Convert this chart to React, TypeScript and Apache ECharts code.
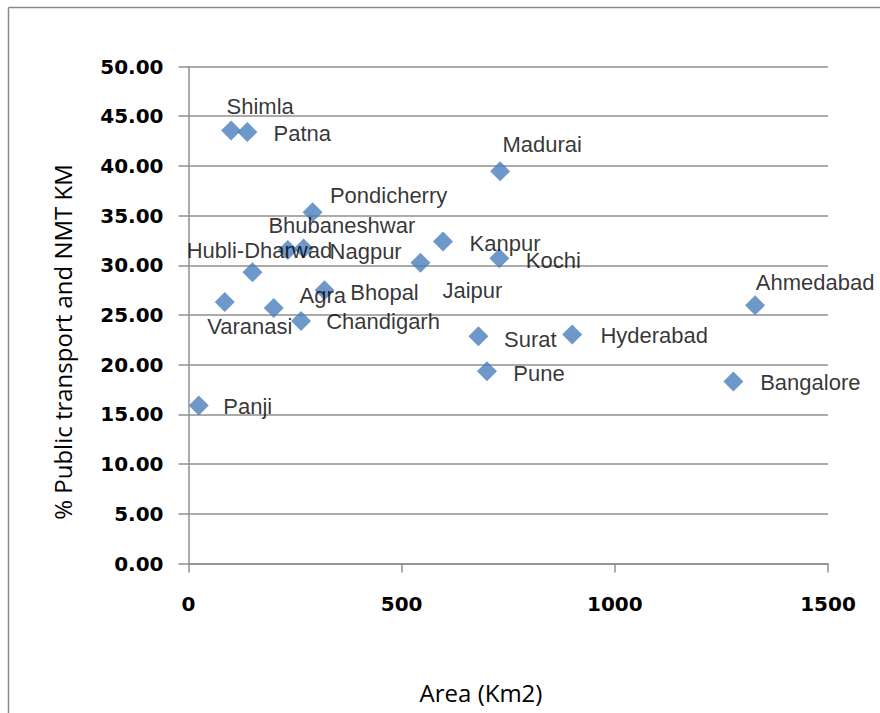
import React, { useEffect, useRef } from "react";
import * as echarts from "echarts";

const cities = [
  "Shimla", "Patna", "Madurai", "Pondicherry", "Bhubaneshwar", "Nagpur",
  "Hubli-Dharwad", "Kanpur", "Kochi", "Jaipur", "Agra", "Bhopal",
  "Varanasi", "Chandigarh", "Surat", "Hyderabad", "Pune", "Ahmedabad",
  "Bangalore", "Panji",
];
const areaKm2 = [
  100, 138, 731, 291, 233, 270,
  150, 597, 729, 544, 200, 319,
  85, 264, 680, 900, 700, 1329,
  1278, 24,
];
const ptNmtShare = [
  43.55, 43.4, 39.45, 35.33, 31.55, 31.7,
  29.3, 32.4, 30.7, 30.25, 25.7, 27.5,
  26.3, 24.4, 22.85, 23.05, 19.35, 25.97,
  18.3, 15.9,
];
const yTicks = ["0.00", "5.00", "10.00", "15.00", "20.00", "25.00", "30.00", "35.00", "40.00", "45.00", "50.00"];
const xTicks = ["0", "500", "1000", "1500"];

// label placement (offset of label centre from the marker centre), styling only
const labelOffsets: Record<string, [number, number]> = {
  Shimla: [29, -24],
  Patna: [55, 1],
  Madurai: [42, -27],
  Pondicherry: [76, -17],
  Bhubaneshwar: [54, -24],
  Nagpur: [62, 3],
  "Hubli-Dharwad": [7, -22],
  Kanpur: [62, 2],
  Kochi: [54, 2],
  Jaipur: [52, 28],
  Agra: [49, -13],
  Bhopal: [60, 2],
  Varanasi: [25, 24],
  Chandigarh: [82, 1],
  Surat: [52, 3],
  Hyderabad: [82, 1],
  Pune: [52, 2],
  Ahmedabad: [60, -23],
  Bangalore: [77, 1],
  Panji: [49, 1],
};

export default function App() {
  const ref = useRef<HTMLDivElement>(null);
  useEffect(() => {
    if (!ref.current) return;
    const chart = echarts.init(ref.current, undefined, { renderer: "svg" });
    const data = cities.map((c, i) => ({
      name: c,
      value: [areaKm2[i], ptNmtShare[i]],
      label: { offset: labelOffsets[c] || [40, 0] },
    }));
    const gridColor = "#8f8f8f";
    chart.setOption({
      animation: false,
      backgroundColor: "#ffffff",
      grid: { left: 188.5, right: 52, top: 66.5, bottom: 149.5, containLabel: false },
      xAxis: {
        type: "value",
        min: 0,
        max: 1500,
        interval: 500,
        axisLine: { show: true, lineStyle: { color: gridColor, width: 1.5 } },
        axisTick: { show: true, inside: false, length: 9, lineStyle: { color: gridColor, width: 1.5 } },
        splitLine: { show: false },
        axisLabel: {
          margin: 30,
          fontFamily: "DejaVu Sans",
          fontWeight: "bold",
          fontSize: 20,
          color: "#000",
          formatter: (v: number) => {
            const idx = Math.round(v / 500);
            return xTicks[idx] ?? String(v);
          },
        },
      },
      yAxis: {
        type: "value",
        min: 0,
        max: 50,
        interval: 5,
        axisLine: { show: true, lineStyle: { color: gridColor, width: 1.5 } },
        axisTick: { show: true, inside: false, length: 10, lineStyle: { color: gridColor, width: 1.5 } },
        splitLine: { show: true, lineStyle: { color: gridColor, width: 1.5 } },
        axisLabel: {
          margin: 25,
          fontFamily: "DejaVu Sans",
          fontWeight: "bold",
          fontSize: 20,
          color: "#000",
          formatter: (v: number) => {
            const idx = Math.round(v / 5);
            return yTicks[idx] ?? v.toFixed(2);
          },
        },
      },
      graphic: [
        {
          type: "line",
          shape: { x1: 8.5, y1: 7.5, x2: 880, y2: 7.5 },
          style: { stroke: "#8a8a8a", lineWidth: 1.5 },
        },
        {
          type: "line",
          shape: { x1: 8.5, y1: 7.5, x2: 8.5, y2: 713 },
          style: { stroke: "#8a8a8a", lineWidth: 1.5 },
        },
        {
          type: "text",
          x: 62,
          y: 342,
          rotation: Math.PI / 2,
          style: {
            text: "% Public transport and NMT KM",
            fontFamily: "Open Sans",
            fontSize: 24,
            fill: "#000",
            align: "center",
            verticalAlign: "middle",
          },
        },
        {
          type: "text",
          x: 481,
          y: 692,
          style: {
            text: "Area (Km2)",
            fontFamily: "Open Sans",
            fontSize: 24,
            fill: "#000",
            align: "center",
            verticalAlign: "middle",
          },
        },
      ],
      series: [
        {
          type: "scatter",
          symbol: "diamond",
          symbolSize: 20,
          itemStyle: { color: "#4a7ebb" },
          label: {
            show: true,
            position: "inside",
            formatter: "{b}",
            fontFamily: "Liberation Sans",
            fontSize: 22,
            lineHeight: 22,
            color: "#000",
          },
          data,
        },
      ],
    });
    return () => chart.dispose();
  }, []);
  return (
    <div
      ref={ref}
      style={{ position: "absolute", left: 0, top: 0, width: 880, height: 713 }}
    />
  );
}
